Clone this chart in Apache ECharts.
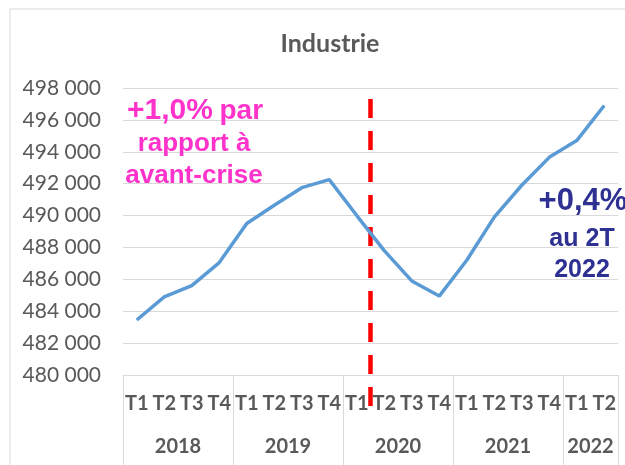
<!DOCTYPE html>
<html>
<head>
<meta charset="utf-8">
<script src="https://cdn.jsdelivr.net/npm/echarts@6/dist/echarts.min.js"></script>
<style>
    html, body { margin: 0; padding: 0; background: #ffffff; }
    #chart { width: 625px; height: 465px; }
</style>
</head>
<body>
<div id="chart"></div>
<script>
// données
const quarters = ['T1', 'T2', 'T3', 'T4', 'T1', 'T2', 'T3', 'T4', 'T1', 'T2', 'T3', 'T4', 'T1', 'T2', 'T3', 'T4', 'T1', 'T2'];
const years = ['2018', '2019', '2020', '2021', '2022'];
const quartersPerYear = [4, 4, 4, 4, 2];
const industrie = [483450, 484900, 485600, 487050, 489500, 490650, 491750, 492250, 490000,
    487800, 485900, 484950, 487200, 489900, 491900, 493650, 494700, 496900];
const yMin = 480000;
const yMax = 498000;
const yStep = 2000;
const crisisAfter = 9; // ligne rouge entre T1 et T2 2020

// bornes et milieux des années sur l'axe 0..18
let yearBounds = [0];
let yearMids = [];
quartersPerYear.forEach(function (n, i) {
    let start = yearBounds[i];
    yearBounds.push(start + n);
    yearMids.push(start + n / 2);
});

const grey = '#595959';
const lineGrey = '#d9d9d9';

let myChart = echarts.init(document.getElementById('chart'));

myChart.setOption({
    animation: false,
    title: {
        text: 'Industrie',
        left: 325,
        top: 26,
        textAlign: 'center',
        textStyle: {
            fontFamily: 'Lato',
            fontSize: 25,
            fontWeight: 'bold',
            color: grey
        }
    },
    grid: {
        left: 123,
        right: 7,
        top: 88,
        bottom: 90
    },
    xAxis: [
        {
            type: 'category',
            data: quarters,
            boundaryGap: true,
            axisLine: {
                show: true,
                lineStyle: { color: lineGrey }
            },
            axisTick: { show: false },
            axisLabel: {
                interval: 0,
                margin: 19,
                fontFamily: 'Lato',
                fontSize: 20,
                fontWeight: 'bold',
                color: grey
            }
        },
        {
            type: 'value',
            position: 'bottom',
            offset: 0,
            min: 0,
            max: quarters.length,
            axisLine: { show: false },
            splitLine: { show: false },
            axisTick: {
                show: true,
                customValues: yearBounds,
                length: 95,
                lineStyle: { color: lineGrey }
            },
            axisLabel: {
                customValues: yearMids,
                margin: 62,
                fontFamily: 'Lato',
                fontSize: 20,
                fontWeight: 'bold',
                color: grey,
                formatter: function (v) {
                    return years[yearMids.indexOf(v)];
                }
            }
        }
    ],
    yAxis: {
        type: 'value',
        min: yMin,
        max: yMax,
        interval: yStep,
        axisLine: { show: false },
        axisTick: { show: false },
        splitLine: {
            lineStyle: { color: lineGrey, width: 1 }
        },
        axisLabel: {
            margin: 22,
            fontFamily: 'Lato',
            fontSize: 21,
            color: grey,
            formatter: function (v) {
                return String(v).replace(/\B(?=(\d{3})+(?!\d))/g, ' ');
            }
        }
    },
    series: [
        {
            name: 'Industrie',
            type: 'line',
            data: industrie,
            showSymbol: false,
            symbol: 'none',
            lineStyle: {
                color: '#5B9BD5',
                width: 3.5
            },
            itemStyle: { color: '#5B9BD5' }
        }
    ]
});

// ligne rouge pointillée et annotations
let redX = myChart.convertToPixel({ xAxisIndex: 1 }, crisisAfter);
let axisY = myChart.convertToPixel({ yAxisIndex: 0 }, yMin);
let topY = myChart.convertToPixel({ yAxisIndex: 0 }, yMax);

const pink = '#FF33CC';
const navy = '#2E3192';
const annotFont = '"Liberation Sans", Arial, sans-serif';

myChart.setOption({
    graphic: [
        {
            type: 'rect',
            silent: true,
            shape: { x: 10, y: 9, width: 700, height: 600 },
            style: { fill: 'none', stroke: lineGrey, lineWidth: 1 }
        },
        {
            type: 'line',
            silent: true,
            shape: { x1: redX, y1: topY + 11, x2: redX, y2: axisY + 35 },
            style: { stroke: '#FF0000', lineWidth: 4.5, lineDash: [19, 13] }
        },
        {
            type: 'text',
            silent: true,
            x: 195,
            y: 111,
            style: {
                text: '{a|+1,0%}{s| }{b|par}',
                align: 'center',
                verticalAlign: 'middle',
                rich: {
                    a: { fontFamily: annotFont, fontSize: 30, fontWeight: 'bold', fill: pink },
                    s: { fontFamily: annotFont, fontSize: 24, fill: pink },
                    b: { fontFamily: annotFont, fontSize: 28, fontWeight: 'bold', fill: pink }
                }
            }
        },
        {
            type: 'text',
            silent: true,
            x: 194,
            y: 144,
            style: {
                text: 'rapport à',
                align: 'center',
                verticalAlign: 'middle',
                font: 'bold 26px ' + annotFont,
                fill: pink
            }
        },
        {
            type: 'text',
            silent: true,
            x: 194,
            y: 176,
            style: {
                text: 'avant-crise',
                align: 'center',
                verticalAlign: 'middle',
                font: 'bold 26px ' + annotFont,
                fill: pink
            }
        },
        {
            type: 'text',
            silent: true,
            x: 583,
            y: 201,
            style: {
                text: '+0,4%',
                align: 'center',
                verticalAlign: 'middle',
                font: 'bold 31px ' + annotFont,
                fill: navy
            }
        },
        {
            type: 'text',
            silent: true,
            x: 582,
            y: 239,
            style: {
                text: 'au 2T',
                align: 'center',
                verticalAlign: 'middle',
                font: 'bold 25px ' + annotFont,
                fill: navy
            }
        },
        {
            type: 'text',
            silent: true,
            x: 582,
            y: 270,
            style: {
                text: '2022',
                align: 'center',
                verticalAlign: 'middle',
                font: 'bold 25px ' + annotFont,
                fill: navy
            }
        }
    ]
});

window.addEventListener('resize', function () {
    myChart.resize();
});
</script>
</body>
</html>
